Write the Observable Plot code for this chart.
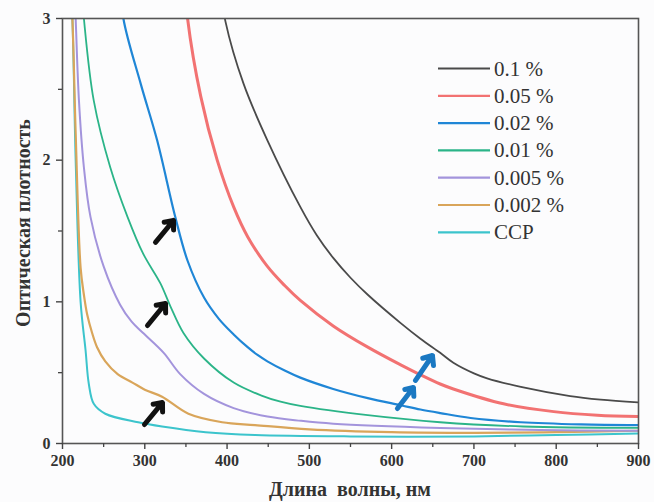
<!DOCTYPE html>
<html>
<head>
<meta charset="utf-8">
<script src="https://cdn.jsdelivr.net/npm/d3@7"></script>
<script src="https://cdn.jsdelivr.net/npm/@observablehq/plot@0.6"></script>
<style>
  html, body { margin: 0; padding: 0; background: #fcfcfd; }
  #chart { width: 654px; height: 502px; position: relative; }
</style>
</head>
<body>
<div id="chart"></div>
<script>
// ---- data ----
const seriesNames = ["0.1 %", "0.05 %", "0.02 %", "0.01 %", "0.005 %", "0.002 %", "CCP"];
const seriesColors = ["#4a4a4a", "#f27272", "#1f86d6", "#2bb488", "#a394dc", "#d9a55a", "#3cc4cc"];
const seriesWidths = [1.8, 3, 2.2, 1.8, 2, 2.2, 2];

const wl_01 = [390, 398, 420, 449, 489, 509, 529, 550, 571, 611, 635, 659, 675, 700, 716, 757, 817, 854, 900];
const od_01 = [3.3, 2.98, 2.54, 2.14, 1.67, 1.47, 1.31, 1.17, 1.05, 0.85, 0.74, 0.64, 0.57, 0.495, 0.46, 0.40, 0.335, 0.31, 0.29];

const wl_005 = [348, 352, 368, 388, 408, 425, 449, 470, 489, 529, 571, 611, 635, 659, 675, 736, 797, 850, 900];
const od_005 = [3.3, 3.0, 2.45, 2.0, 1.67, 1.46, 1.25, 1.115, 1.01, 0.83, 0.68, 0.555, 0.485, 0.42, 0.385, 0.28, 0.225, 0.20, 0.19];

const wl_002 = [270, 274, 295, 315, 337, 352, 372, 390, 408, 425, 437, 449, 470, 489, 529, 571, 611, 635, 659, 696, 757, 830, 900];
const od_002 = [3.3, 3.0, 2.54, 2.14, 1.6, 1.29, 1.03, 0.88, 0.77, 0.68, 0.625, 0.58, 0.515, 0.465, 0.385, 0.32, 0.27, 0.24, 0.215, 0.18, 0.15, 0.135, 0.13];

const wl_001 = [222, 226, 238, 258, 279, 298, 319, 331, 347, 372, 408, 441, 465, 489, 571, 659, 760, 900];
const od_001 = [3.3, 3.0, 2.42, 1.95, 1.6, 1.34, 1.13, 0.97, 0.78, 0.60, 0.43, 0.34, 0.295, 0.265, 0.20, 0.15, 0.12, 0.11];

const wl_0005 = [214, 216, 220, 226, 234, 250, 270, 284, 298, 323, 343, 372, 408, 449, 490, 529, 659, 780, 900];
const od_0005 = [3.3, 3.0, 2.42, 1.95, 1.6, 1.25, 0.98, 0.86, 0.78, 0.64, 0.49, 0.35, 0.25, 0.19, 0.16, 0.14, 0.11, 0.095, 0.09];

const wl_0002 = [209, 212, 216, 222, 226, 230, 236, 242, 252, 267, 285, 300, 321, 353, 394, 434, 500, 600, 700, 800, 900];
const od_0002 = [3.3, 3.0, 2.19, 1.24, 1.05, 0.91, 0.78, 0.68, 0.58, 0.49, 0.43, 0.38, 0.33, 0.21, 0.15, 0.13, 0.10, 0.08, 0.075, 0.08, 0.09];

const wl_ccp = [209, 212, 216, 222, 228, 232, 238, 252, 292, 321, 374, 434, 550, 700, 800, 900];
const od_ccp = [3.3, 3.0, 2.0, 1.0, 0.66, 0.42, 0.28, 0.21, 0.15, 0.12, 0.08, 0.06, 0.05, 0.05, 0.06, 0.07];

const xTicks = [200, 300, 400, 500, 600, 700, 800, 900];
const xMinorTicks = [250, 350, 450, 550, 650, 750, 850];
const yTicks = [0, 1, 2, 3];
const yMinorTicks = [0.5, 1.5, 2.5];

// annotation arrows (data units)
const arrowX1 = [313.0, 303.3, 299.6, 629.0, 607.0];
const arrowY1 = [1.42, 0.833, 0.134, 0.445, 0.247];
const arrowX2 = [334.9, 325.2, 321.5, 649.6, 626.5];
const arrowY2 = [1.574, 0.988, 0.289, 0.621, 0.395];
const arrowColors = ["#111111", "#111111", "#111111", "#1a78c2", "#1a78c2"];

// ---- build table ----
const wlList = [wl_01, wl_005, wl_002, wl_001, wl_0005, wl_0002, wl_ccp];
const odList = [od_01, od_005, od_002, od_001, od_0005, od_0002, od_ccp];
const rows = [];
seriesNames.forEach((name, i) => {
  wlList[i].forEach((w, j) => rows.push({series: name, wl: w, od: odList[i][j]}));
});
const arrows = arrowX1.map((x, i) => ({x1: x, y1: arrowY1[i], x2: arrowX2[i], y2: arrowY2[i], c: arrowColors[i]}));

const serif = "'Liberation Serif', 'DejaVu Serif', serif";

const lineMarks = seriesNames.slice().reverse().map(name => {
  const i = seriesNames.indexOf(name);
  return Plot.line(rows.filter(r => r.series === name), {
    x: "wl", y: "od", stroke: seriesColors[i], strokeWidth: seriesWidths[i],
    curve: "catmull-rom", clip: true
  });
});

const plot = Plot.plot({
  width: 654,
  height: 502,
  marginLeft: 62,
  marginRight: 16,
  marginTop: 18,
  marginBottom: 59,
  style: {background: "transparent", fontFamily: serif},
  x: {domain: [200, 900]},
  y: {domain: [0, 3]},
  marks: [
    ...lineMarks,
    Plot.arrow(arrows, {x1: "x1", y1: "y1", x2: "x2", y2: "y2", stroke: "c", strokeWidth: 5, headLength: 15, headAngle: 80, clip: true}),
    Plot.frame({stroke: "#555", strokeWidth: 1.6}),
    Plot.axisX({ticks: xTicks, tickSize: 6, tickPadding: 5, tickFormat: d => String(d), fontSize: 16, fontWeight: "bold", fill: "#333", stroke: "#444", strokeWidth: 1.4, label: null}),
    Plot.axisX({ticks: xMinorTicks, tickSize: 4, tickFormat: () => "", stroke: "#444", strokeWidth: 1.3, label: null}),
    Plot.axisY({ticks: yTicks, tickSize: 6, tickPadding: 6, tickFormat: d => String(d), fontSize: 16, fontWeight: "bold", fill: "#333", stroke: "#444", strokeWidth: 1.4, label: null}),
    Plot.axisY({ticks: yMinorTicks, tickSize: 4, tickFormat: () => "", stroke: "#444", strokeWidth: 1.3, label: null})
  ]
});

const svg = d3.select(plot);
// axis titles
svg.append("text")
  .attr("x", 350).attr("y", 496)
  .attr("text-anchor", "middle")
  .attr("font-family", serif).attr("font-size", 20).attr("font-weight", "bold").attr("fill", "#333")
  .style("white-space", "pre")
  .text("Длина  волны, нм");
svg.append("text")
  .attr("transform", "translate(30,223) rotate(-90)")
  .attr("text-anchor", "middle")
  .attr("font-family", serif).attr("font-size", 20).attr("font-weight", "bold").attr("fill", "#333")
  .text("Оптическая плотность");

// legend
const lg = svg.append("g").attr("text-anchor", "start");
seriesNames.forEach((name, i) => {
  const yy = 68.5 + i * 27.3;
  lg.append("line").attr("x1", 438).attr("x2", 490).attr("y1", yy).attr("y2", yy)
    .attr("stroke", seriesColors[i]).attr("stroke-width", 2.2);
  lg.append("text").attr("x", 494).attr("y", yy + 7)
    .attr("text-anchor", "start")
    .attr("font-family", serif).attr("font-size", 21).attr("fill", "#333")
    .text(name);
});

document.getElementById("chart").appendChild(plot);
</script>
</body>
</html>
